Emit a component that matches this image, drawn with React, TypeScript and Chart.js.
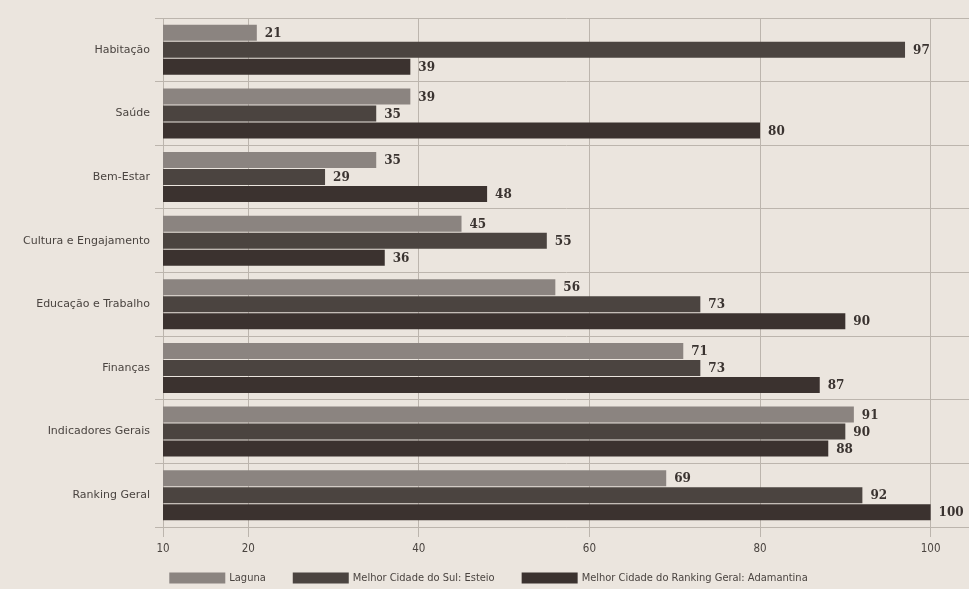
import React, { useEffect, useRef } from "react";
import { Chart, registerables } from "chart.js";

Chart.register(...registerables);

const CATEGORIES = [
  "Habitação",
  "Saúde",
  "Bem-Estar",
  "Cultura e Engajamento",
  "Educação e Trabalho",
  "Finanças",
  "Indicadores Gerais",
  "Ranking Geral",
];
const SERIES_NAMES = [
  "Laguna",
  "Melhor Cidade do Sul: Esteio",
  "Melhor Cidade do Ranking Geral: Adamantina",
];
const LAGUNA = [21, 39, 35, 45, 56, 71, 91, 69];
const ESTEIO = [97, 35, 29, 55, 73, 73, 90, 92];
const ADAMANTINA = [39, 80, 48, 36, 90, 87, 88, 100];
const X_TICKS = [10, 20, 40, 60, 80, 100];
const X_MIN = 10;
const X_MAX = 104.5;

const COLORS = ["#8b8480", "#4b4440", "#3b322f"];
const BG = "#ebe5de";
const GRID = "#bcb5ad";
const TEXT = "#4a4440";
const COND = '"DejaVu Sans Condensed", "Liberation Sans Narrow", "DejaVu Sans", sans-serif';
const W = 969;
const H = 589;

const valueLabels = {
  id: "valueLabels",
  afterDatasetsDraw(chart: any) {
    const ctx = chart.ctx;
    ctx.save();
    ctx.font = 'bold 12px "DejaVu Serif", serif';
    ctx.fillStyle = "#3a3330";
    ctx.textAlign = "left";
    ctx.textBaseline = "middle";
    chart.data.datasets.forEach((ds: any, i: number) => {
      const meta = chart.getDatasetMeta(i);
      meta.data.forEach((bar: any, j: number) => {
        ctx.fillText(String(ds.data[j]), bar.x + 8, bar.y + 1);
      });
    });
    ctx.restore();
  },
};

const customLegend = {
  id: "customLegend",
  afterDraw(chart: any) {
    const ctx = chart.ctx;
    ctx.save();
    ctx.font = "11px " + COND;
    ctx.textBaseline = "middle";
    ctx.textAlign = "left";
    const boxW = 56;
    const boxH = 11;
    const gapBox = 4;
    const gapItem = 27;
    const items = chart.data.datasets.map((ds: any) => ({
      label: ds.label,
      color: ds.backgroundColor,
      w: boxW + gapBox + ctx.measureText(ds.label).width,
    }));
    const total =
      items.reduce((s: number, it: any) => s + it.w, 0) + gapItem * (items.length - 1);
    let x = 488.5 - total / 2;
    const cy = 578;
    items.forEach((it: any) => {
      ctx.fillStyle = it.color;
      ctx.fillRect(x, cy - boxH / 2, boxW, boxH);
      ctx.fillStyle = TEXT;
      ctx.fillText(it.label, x + boxW + gapBox, cy);
      x += it.w + gapItem;
    });
    ctx.restore();
  },
};

export default function App() {
  const ref = useRef<HTMLCanvasElement | null>(null);
  useEffect(() => {
    if (!ref.current) return;
    const data = [LAGUNA, ESTEIO, ADAMANTINA];
    const chart = new Chart(ref.current, {
      type: "bar",
      data: {
        labels: CATEGORIES,
        datasets: SERIES_NAMES.map((name, i) => ({
          label: name,
          data: data[i],
          backgroundColor: COLORS[i],
          borderWidth: 0,
          categoryPercentage: 0.8,
          barPercentage: 0.94,
        })),
      },
      options: {
        indexAxis: "y",
        responsive: false,
        animation: false,
        layout: { padding: { top: 18, right: 0, left: 0, bottom: 24 } },
        plugins: {
          tooltip: { enabled: false },
          legend: { display: false },
        },
        scales: {
          x: {
            type: "linear",
            min: X_MIN,
            max: X_MAX,
            afterBuildTicks: (axis: any) => {
              axis.ticks = X_TICKS.map((v) => ({ value: v }));
            },
            afterFit: (scale: any) => {
              scale.height = 38;
            },
            grid: { color: GRID, tickLength: 10, lineWidth: 1 },
            border: { display: true, color: GRID },
            ticks: {
              color: TEXT,
              padding: 5,
              font: { family: COND, size: 11.5 },
            },
          },
          y: {
            type: "category",
            afterFit: (scale: any) => {
              scale.width = 163;
            },
            grid: { offset: true, color: GRID, tickLength: 8, lineWidth: 1 },
            border: { display: true, color: GRID },
            ticks: {
              color: TEXT,
              padding: 5,
              font: { family: '"DejaVu Sans", sans-serif', size: 11 },
            },
          },
        },
      },
      plugins: [valueLabels, customLegend],
    } as any);
    return () => chart.destroy();
  }, []);
  return (
    <div
      style={{
        position: "fixed",
        left: 0,
        top: 0,
        width: W,
        height: H,
        background: BG,
      }}
    >
      <canvas ref={ref} width={W} height={H} style={{ display: "block", width: W, height: H }} />
    </div>
  );
}
